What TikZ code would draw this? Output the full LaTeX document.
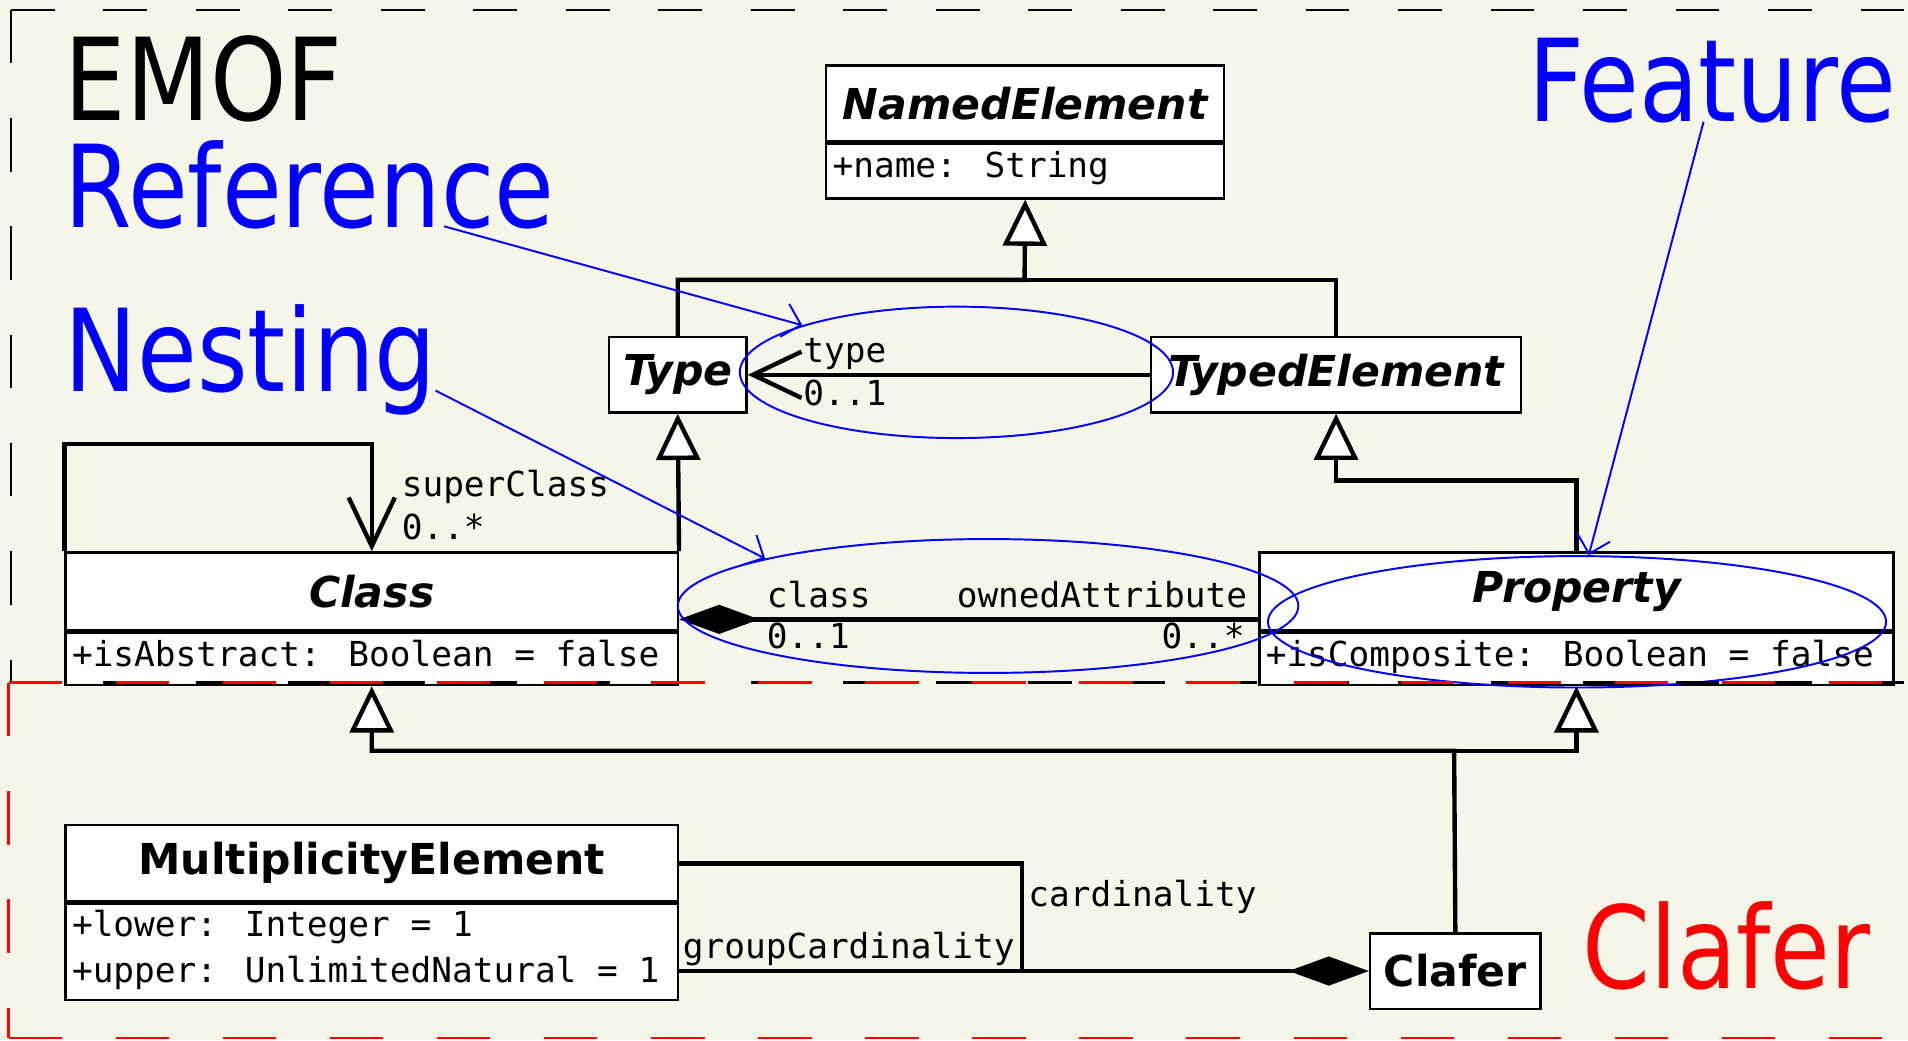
\documentclass[tikz,border=0pt]{standalone}
\usepackage{fontspec}
\setmainfont{DejaVu Sans}
\newfontfamily\bigfont[FakeStretch=0.85]{DejaVu Sans}
\newfontfamily\monof{DejaVu Sans Mono}
\usetikzlibrary{arrows.meta, shapes.geometric, calc}
\definecolor{bg}{RGB}{246,246,232}
\definecolor{annot}{RGB}{0,0,255}
\definecolor{clred}{RGB}{255,0,0}
\tikzset{
  hdr/.style={draw, fill=white, line width=2pt, inner sep=0pt, anchor=north west,
              font=\fontsize{35}{42}\selectfont\bfseries},
  bodybox/.style={draw, fill=white, line width=2pt, inner sep=0pt, anchor=north west},
  lbl/.style={font=\monof\fontsize{28.3}{34}\selectfont, inner sep=0pt},
  bigtxt/.style={font=\bigfont\fontsize{94}{100}\selectfont, inner sep=0pt, anchor=base west},
  conn/.style={line width=3.6pt},
  gen/.style={conn, -{Triangle[fill=white, length=38pt, width=36pt]}},
  nav/.style={conn, -{Straight Barb[length=40pt, width=38pt]}},
  comp/.style={conn, {Diamond[length=66pt, width=24pt]}-},
  hl/.style={ellipse, draw=annot, line width=1.6pt, inner sep=0pt},
  notearrow/.style={draw=annot, line width=1.6pt, -{Straight Barb[length=14pt, width=28pt]}},
}
\begin{document}
\begin{tikzpicture}[x=1pt, y=-1pt]
\useasboundingbox (0,0) rectangle (1568,855);
\fill[bg] (0,0) rectangle (1568,855);

% ---- big labels
\node[bigtxt] (emof) at (53,99) {EMOF};
\node[bigtxt, text=annot] (reference) at (53,187) {Reference};
\node[bigtxt, text=annot] (nesting) at (53,322) {Nesting};
\node[bigtxt, text=annot] (feature) at (1256,100) {Feature};
\node[bigtxt, text=clred] (claferlbl) at (1300,812) {Clafer};

% ---- classes
\node[hdr, minimum width=327pt, minimum height=62pt] (named) at (678,53) {\itshape NamedElement};
\node[bodybox, minimum width=327pt, minimum height=45pt] (namedb) at (named.south west) {};
\node[lbl, anchor=base west] (namedattr) at (684,146) {+name: String};

\node[hdr, minimum width=113pt, minimum height=62pt] (type) at (499.5,276) {\itshape Type};
\node[hdr, minimum width=304pt, minimum height=62pt] (typed) at (945,276) {\itshape TypedElement};

\node[hdr, minimum width=503pt, minimum height=64pt] (class) at (53,453) {\itshape Class};
\node[bodybox, minimum width=503pt, minimum height=43pt] (classb) at (class.south west) {};
\node[lbl, anchor=base west] (classattr) at (59,548) {+isAbstract: Boolean = false};

\node[hdr, minimum width=521pt, minimum height=64pt] (prop) at (1034,453) {\itshape Property};
\node[bodybox, minimum width=521pt, minimum height=43pt] (propb) at (prop.south west) {};
\node[lbl, anchor=base west] (propattr) at (1040,548) {+isComposite: Boolean = false};

\node[hdr, minimum width=503pt, minimum height=63pt] (me) at (53,677) {MultiplicityElement};
\node[bodybox, minimum width=503pt, minimum height=79pt] (meb) at (me.south west) {};
\node[lbl, anchor=base west] (melower) at (59,770) {+lower: Integer = 1};
\node[lbl, anchor=base west] (meupper) at (59,807) {+upper: UnlimitedNatural = 1};

\node[hdr, minimum width=140pt, minimum height=62pt] (clafer) at (1125,766) {Clafer};

% ---- generalizations
\coordinate (j1) at (842,230);
\draw[gen] (type.north) |- (j1) -- (namedb.south);
\draw[conn] (typed.north) |- (j1);
\draw[gen] (class.north east) -- (type.south);
\draw[gen] (prop.north) -- ++(0,-58) -| (typed.south);
\coordinate (j2) at (1195,617);
\draw[gen] (clafer.north) -- (j2) -| (classb.south);
\draw[gen] (j2) -| (propb.south);

% ---- associations
\draw[nav] (typed.west) -- (type.east);
\node[lbl, anchor=base west] (typerole) at (660,298) {type};
\node[lbl, anchor=base west] (typemult) at (660,333) {0..1};

\draw[nav] (class.north west) -- ++(0,-88) -| (class.north);
\node[lbl, anchor=base west] (superrole) at (330,408) {superClass};
\node[lbl, anchor=base west] (supermult) at (330,443) {0..*};

\draw[comp] ($(class.south east)+(0,-10)$) -- ($(prop.south west)+(0,-10)$);
\node[lbl, anchor=base west] (classrole) at (630,499) {class};
\node[lbl, anchor=base west] (classmult) at (630,533) {0..1};
\node[lbl, anchor=base east] (ownedrole) at (1025,499) {ownedAttribute};
\node[lbl, anchor=base east] (ownedmult) at (1023,533) {0..*};

\coordinate (j3) at (840,797);
\draw[comp] (clafer.west) -- (meb.east |- clafer.west);
\draw[conn] (me.east) -| (j3);
\node[lbl, anchor=base west] (cardrole) at (845,745) {cardinality};
\node[lbl, anchor=base west] (gcardrole) at (561,788) {groupCardinality};

% ---- highlights
\node[hl, minimum width=356pt, minimum height=108pt] (e1) at (786,306) {};
\node[hl, minimum width=510pt, minimum height=110pt] (e2) at (812,498) {};
\node[hl, minimum width=508pt, minimum height=108pt] (e3) at (1296,511) {};
\coordinate (refstart) at (365,186);
\coordinate (neststart) at (358,321);
\coordinate (featstart) at (1400,100);
\draw[notearrow] (refstart) -- (e1.163.5);
\draw[notearrow] (neststart) -- (e2.168);
\draw[notearrow] (featstart) -- (e3.80);

% ---- borders
\draw[line width=2pt, dash pattern=on 36pt off 40pt] (9,8) -- (1568,8);
\draw[line width=2pt, dash pattern=on 44pt off 45pt] (9,8) -- (9,561);
\draw[line width=2pt, dash pattern=on 36pt off 40pt] (9,561) -- (1568,561);
\draw[clred, line width=2pt, dash pattern=on 44pt off 44pt] (7,561) -- (1568,561);
\draw[clred, line width=2pt, dash pattern=on 44pt off 45pt] (7,561) -- (7,853);
\draw[clred, line width=2pt, dash pattern=on 44pt off 44pt] (7,853) -- (1568,853);
\end{tikzpicture}
\end{document}
